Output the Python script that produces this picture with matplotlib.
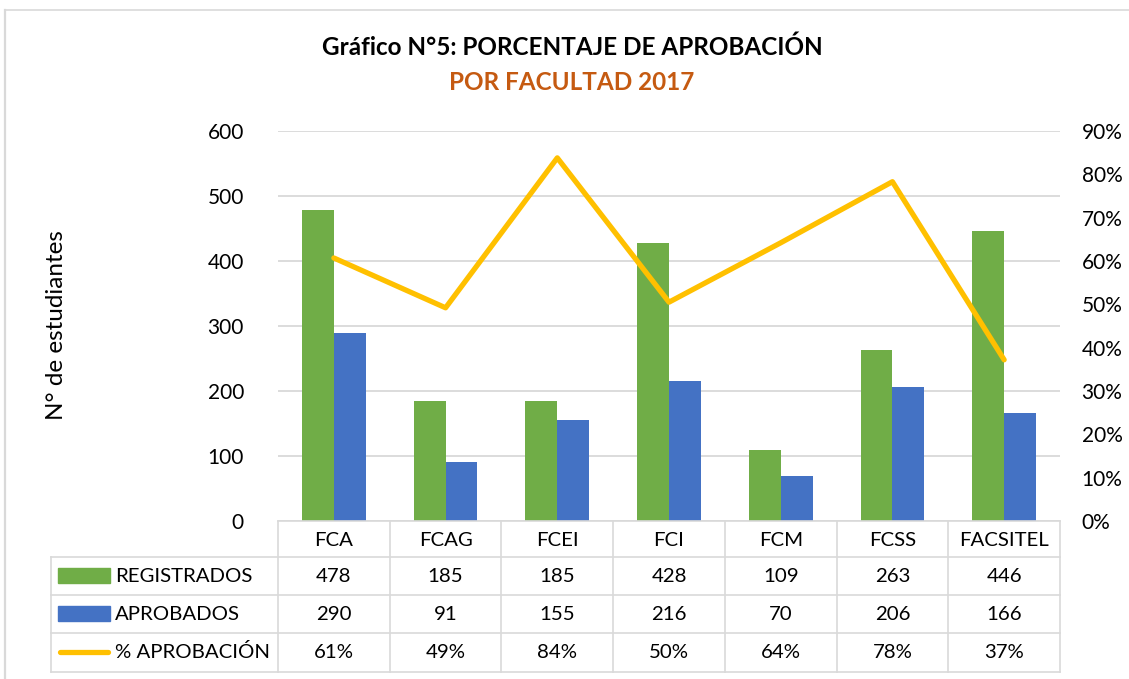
import matplotlib
matplotlib.use("Agg")
import matplotlib.pyplot as plt
import matplotlib.transforms as mtransforms
from matplotlib.patches import Rectangle
from matplotlib.lines import Line2D
from matplotlib.ticker import FuncFormatter
import numpy as np

# data
facultades = ["FCA", "FCAG", "FCEI", "FCI", "FCM", "FCSS", "FACSITEL"]
registrados = [478, 185, 185, 428, 109, 263, 446]
aprobados = [290, 91, 155, 216, 70, 206, 166]
pct_aprobacion = [60.7, 49.2, 83.8, 50.5, 64.2, 78.3, 37.2]
pct_tabla = ["61%", "49%", "84%", "50%", "64%", "78%", "37%"]
series_names = ["REGISTRADOS", "APROBADOS", "% APROBACIÓN"]

GREEN = "#70AD47"
BLUE = "#4472C4"
GOLD = "#FFC000"
GRID = "#D9D9D9"
TEXT = "#000000"
FS_TICK = 15
FS_TABLE = 14.7

plt.rcParams["font.family"] = ["Lato", "DejaVu Sans"]

W, H = 1129, 679
fig = plt.figure(figsize=(W / 100, H / 100), dpi=100)


def fx(px):
    return px / W


def fy(py):
    return 1 - py / H


# outer chart border (only top and left edges fall inside the picture)
fig.lines.append(Line2D([fx(5), 1], [fy(10), fy(10)], transform=fig.transFigure,
                        color=GRID, lw=1.2))
fig.lines.append(Line2D([fx(5), fx(5)], [fy(10), 0], transform=fig.transFigure,
                        color=GRID, lw=1.6))

fig.text(fx(572), fy(47), "Gráfico N°5: PORCENTAJE DE APROBACIÓN",
         ha="center", va="center", fontsize=17.5, fontweight="bold", color=TEXT)
fig.text(fx(572), fy(83), "POR FACULTAD 2017", ha="center", va="center",
         fontsize=17.5, fontweight="bold", color="#C55A11")

ax = fig.add_axes([fx(278), fy(521), fx(1060) - fx(278), fy(131) - fy(521)])
x = np.arange(len(facultades))
w = 0.2857
ax.bar(x - w / 2, registrados, w, color=GREEN, zorder=2)
ax.bar(x + w / 2, aprobados, w, color=BLUE, zorder=2)
ax.set_xlim(-0.5, len(facultades) - 0.5)
ax.set_ylim(0, 600)
ax.set_yticks(range(0, 601, 100))
ax.yaxis.grid(True, color=GRID, lw=1.3)
ax.set_axisbelow(True)
for s in ax.spines.values():
    s.set_visible(False)

ax2 = ax.twinx()
ax2.plot(x, pct_aprobacion, color=GOLD, lw=3.8, solid_joinstyle="round",
         solid_capstyle="round", zorder=3)
ax2.set_ylim(0, 90)
ax2.set_yticks(range(0, 91, 10))
ax2.yaxis.set_major_formatter(FuncFormatter(lambda v, p: f"{v:.0f}%"))
for s in ax2.spines.values():
    s.set_visible(False)
ax2.tick_params(right=False, left=False, labelsize=FS_TICK, pad=12)
ax.tick_params(left=False, right=False, bottom=False, labelbottom=False,
               labelsize=FS_TICK, pad=21)

fig.text(fx(57), fy(325), "N° de estudiantes", rotation=90, ha="center",
         va="center", fontsize=17.5)

# data table under the plot
tr = mtransforms.blended_transform_factory(ax.transData, fig.transFigure)
n = len(facultades)
row_y = [521, 557, 595, 633, 672]
lkw = dict(color=GRID, lw=1.2, clip_on=False)

# horizontal lines
fig.lines.append(Line2D([-0.5, n - 0.5], [fy(521), fy(521)], transform=tr, **lkw))
for py in row_y[1:]:
    fig.lines.append(Line2D([fx(51), fx(1060)], [fy(py), fy(py)],
                            transform=fig.transFigure, **lkw))
# vertical lines
for i in range(n + 1):
    fig.lines.append(Line2D([i - 0.5, i - 0.5], [fy(521), fy(672)], transform=tr, **lkw))
fig.lines.append(Line2D([fx(51), fx(51)], [fy(557), fy(672)],
                        transform=fig.transFigure, **lkw))

# header
for i, name in enumerate(facultades):
    fig.text(i, fy(540), name, transform=tr, ha="center", va="center",
             fontsize=FS_TABLE)

rows = [[str(v) for v in registrados], [str(v) for v in aprobados], pct_tabla]
for r, (vals, label) in enumerate(zip(rows, series_names)):
    cy = (row_y[r + 1] + row_y[r + 2]) / 2
    for i, v in enumerate(vals):
        fig.text(i, fy(cy), v, transform=tr, ha="center", va="center",
                 fontsize=FS_TABLE)
    fig.text(fx(115), fy(cy), label, ha="left", va="center", fontsize=FS_TABLE)

# legend keys
fig.patches.append(Rectangle((fx(58), fy(583)), fx(110) - fx(58), fy(568) - fy(583),
                             transform=fig.transFigure, color=GREEN))
fig.patches.append(Rectangle((fx(58), fy(621)), fx(110) - fx(58), fy(606) - fy(621),
                             transform=fig.transFigure, color=BLUE))
fig.lines.append(Line2D([fx(60), fx(108)], [fy(652), fy(652)], transform=fig.transFigure,
                        color=GOLD, lw=3.8, solid_capstyle="round"))

fig.savefig("out.png", dpi=100)
